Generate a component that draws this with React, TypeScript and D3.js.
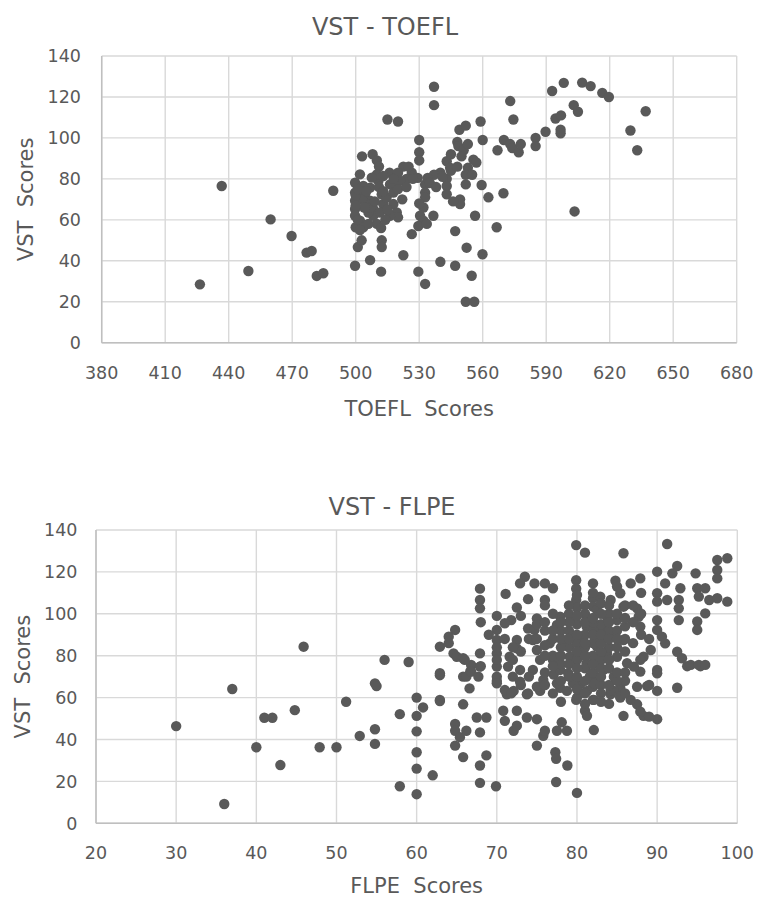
import React from 'react';
import * as d3 from 'd3';

const vstTicks = [0, 20, 40, 60, 80, 100, 120, 140];
const toeflTicks = [380, 410, 440, 470, 500, 530, 560, 590, 620, 650, 680];
const flpeTicks = [20, 30, 40, 50, 60, 70, 80, 90, 100];

// [TOEFL score, VST score]
const toeflPoints: [number, number][] = [
  [537,125],[537,116],[573,118],[574.5,109],[515,109],[520,108],[559,108],[530,99],[560,99],
  [549,104],[552,106],[548,98],[548.5,96],[551,94],[553,97],[567,94],[570,99],[573,97],[574,95],
  [577,93],[578,97],[585,100],[585,96],[530,93],[530,89],[503,91],[508,92],[510,89],[511,86],
  [522.5,86],[516,83],[526.5,83],[524,80],[521,79],[518,78],[540,83],[537,82],[543,88.6],[544.6,85.4],
  [543,80],[543,76.5],[543,72.5],[555.6,89.4],[553,85.4],[552,82],[552,77.3],[559.5,77],[562.7,71],
  [569.8,73],[549.3,70],[549.3,67.7],[556.4,62],[566.6,56.4],[547,54.5],[552.4,46.4],[559.9,43.2],
  [540,39.5],[547,37.6],[554.8,32.7],[552,20],[556,20],[532.8,77.3],[532.8,73.3],[532.8,71],[532,66],
  [530.4,62],[536.7,62],[532,59.6],[529.6,57],[533.6,58],[526.5,53],[522.5,42.7],[529.6,34.7],
  [532.8,28.7],[512.3,50],[512.3,46.7],[506.8,40.3],[499.7,37.6],[512,34.7],[501,46.7],[502.8,50],
  [500,56.4],[502,59.6],[503.6,56.4],
  [499.7,78.1],[499.7,73.3],[499.7,69.3],[499.7,65.3],[499.7,62],[502,82.2],[503.6,76.5],[504.4,72.5],
  [506.8,75.7],[506.8,69.3],[508.3,65.3],[508.3,62],[510,58],[510.7,79],[512.3,72.5],[513,67.7],
  [514.6,70.9],[516.2,77.3],[517.8,73.3],[517.8,67.7],[519.4,63.6],[520,61.2],[510,82.2],[513,81.4],
  [507.6,80.6],[506,63.6],[511.5,63.6],[516.2,62],[505.2,67.7],
  [520,83],[529.3,80.5],[534,80.5],
  [503,70],[505,74],[507,66],[509,69],[511,76],[513,74],[515,65],[518,80],[520,75],[522,70],[524,76],
  [527,80],[535,78],[538,76],[541,81],[545,84],[548,86],[525,86],[501,60],[502,55],[504,66],[506,58],
  [512,56],[514,60],[500,72],[500,67],[501,75],[530,68],[546,69],[555,82],[557,88],[550,91],[545,92],
  [436.7,76.5],[489.4,74.2],[459.8,60.2],[469.7,52.1],[476.8,44],[479.2,44.8],[481.6,32.6],[484.7,33.9],
  [449.3,35],[426.4,28.5],
  [592.8,122.9],[598.3,126.9],[607,127],[611,125.3],[616.5,122],[619.6,120],[603,116],[605,112.8],
  [594.4,109.5],[597,111],[596.8,104],[596.8,102.3],[589.7,103],[637,113],[629.8,103.6],[633,94],
  [603.4,64.1],
];

// [FLPE score, VST score]
const flpePoints: [number, number][] = [
  [30,46.4],[37,64.1],[36,9.2],[40,36.3],[41,50.4],[42,50.4],[43,27.8],[44.8,54],[47.9,36.3],[50,36.3],
  [51.2,58],[52.9,41.7],[54.8,44.9],[54.8,37.9],[54.8,66.8],[55,65.5],[45.9,84.3],[56,78],[59,77],
  [57.9,52.1],[60,60],[60.8,55.3],[60,51.3],[60,43.9],[60,33.9],[60,26.1],[60,13.9],[62,22.9],[57.9,17.7],
  [62.9,70.7],[62.9,58.4],[65.8,56.8],[64.8,47.4],[64.8,44.2],[64.8,37.1],[65.4,41.1],[66.2,44.2],
  [65.8,31.6],[67.5,50.5],[68.7,50.5],[67.9,43.4],[68.7,32.4],[67.9,27.6],[67.9,19.3],[69.9,17.7],
  [70.8,53.7],[71,48.9],[72.1,44.2],[72.5,46.6],[72.5,53.7],[73.75,50.5],[75,49.7],[75,37.1],[75.8,41.8],
  [76,44.2],[77.5,44.2],[78.1,48.2],[78.75,44.2],[77.3,33.9],[77.4,30.8],[78.8,27.6],[77.4,19.7],[80,14.5],
  [81,53.7],[81.25,51.3],[82.1,44.5],[85.8,51.3],[87.5,56.8],[88.3,51.3],[90,49.7],[92.5,64.7],
  [88.75,65.5],[90,63.2],[84.2,61.6],[85.4,64.7],[65.8,70],[66.7,72.6],[70,67.9],[71.25,61.6],[72.1,63.2],
  [73.75,61.6],[75.4,63.2],[77.1,71],[77.9,64.7],[78.75,63.2],[80.4,66.3],[81.25,63.2],[82.5,67.9],
  [84.6,63.2],[85.4,60],[93.75,75],[95.4,75],
  [79.9,132.8],[81,129.2],[73.5,117.7],[72.9,114.5],[74.7,114.5],[76,114.5],[77,112.2],[79.9,116],
  [79.9,112],[79.9,106.6],[82,114.5],[82,107.4],[82,103.4],[67.9,112],[67.9,106.6],[67.9,102.6],
  [71.1,109.5],[73.9,107],[72.5,103],[76,106.6],[70,99],[71.8,97],[71,95.5],[77.9,98.6],[77.5,94.7],
  [75,97.8],[73.9,93],[74.7,92.3],[79.7,97],[81.2,93.9],[82.4,92.3],[70,92.3],[70,87.5],[72.5,87.5],
  [72.5,83.5],[64.8,92.3],[64,89.1],[62.9,84.3],[64.6,81.1],[65,79.5],[65.8,78.8],[67.9,81.1],[70,81.1],
  [70,74.8],[70,70],[70,66.8],[66.8,75.6],[66.2,70],[66.8,72.4],[67.9,74.8],[67.7,70],[66.6,64.4],
  [62.9,71.6],[62.9,58.9],[71.6,79.5],[71.4,74.8],[72,70],[72.9,73.2],[72.9,67.6],[71,63.6],[71.8,62],
  [73.9,62],[74.5,87.5],[75,82.7],[75.4,78],[74.5,73.2],[75.8,68.4],[75,65.2],[76.6,85.9],[77,78],
  [77.9,73.2],[77.5,66.8],[78.7,87.5],[79.1,79.5],[78.9,71.6],[79.5,66.8],[80.4,89.1],[80.8,82.7],
  [81.2,76.4],[81.6,70],[82,65.2],[80.4,62],[79.9,58.9],[82,58.9],
  [91.25,133.3],[85.8,128.9],[97.5,125.7],[98.75,126.5],[97.5,120.9],[97.5,116.9],[90,120.1],[91.9,119.3],
  [92.5,122.8],[94.8,119.3],[87.9,116.9],[86.7,114.5],[84.8,115.8],[91,114.5],[92.9,112.2],[95,112.2],
  [96,112.2],[95.2,108.2],[90,109.8],[90,105.8],[91.25,106.6],[92.7,106.6],[92.7,102.6],[92.7,97],
  [96.5,106.6],[97.5,107.4],[98.75,105.8],[96,100.2],[95,96.3],[95,92.3],[87.5,102.6],[87.7,98.6],
  [87.9,93.9],[90,97],[90,92.3],[90.6,89.1],[91,85.9],[92.5,81.9],[93.1,78.8],[94.2,75.6],[95.2,75.6],
  [96,75.6],[89.2,82.7],[88.3,79.5],[87.9,78],[90,73.2],[90,71.6],[87.9,72.4],[87.5,65.2],[89,66],
  [87.9,53.3],[89,50.9],
  [82.9,108.2],[84.2,106.6],[85.4,109.8],[85.8,103.4],[82.5,101.8],[83.75,98.6],[85,97],[82.1,92.3],
  [83.3,92.3],[84.6,89.1],[85.8,87.5],[82.5,84.3],[83.75,81.1],[85,79.5],[86.25,76.4],[87.1,74.8],
  [82.1,76.4],[83.3,73.2],[84.6,70],[82.1,66.8],[84.2,63.6],[85.4,60.5],[86.7,58.9],[82.1,58.9],
  [76,85],[77,88],[78,92],[79,84],[80,78],[80,86],[81,90],[81,74],[82,80],[82,86],[83,88],[83,78],
  [84,84],[84,92],[78,76],[79,70],[80,70],[81,68],[82,72],[83,66],[77,80],[76,72],[79,92],[80,95],
  [83,95],[84,100],[85,92],[86,88],[86,82],[87,86],[87,96],[88,100],[88,90],[89,88],[79,100],[80,103],
  [80,109],[82,96],[84,96],[76,92],[75,95],[74,88],[73,82],[72,78],[74,70],[73,66],[76,66],[77,62],
  [78,58],[80,60],[81,57],[83,62],[84,57],[86,68],[86,94],[87,104],[88,110],[85,113],[83,105],[81,100],
  [77,100],[76,104],[73,99],[71,88],[72,84],[70,84],[70,78],[69,90],[68,96],[68,75],[66,78],[64,86],
  [78,80],[78,84],[78,88],[79,76],[79,88],[79,96],[80,74],[80,82],[80,90],[80,99],[81,80],[81,84],
  [81,86],[81,96],[82,76],[82,90],[82,98],[83,70],[83,74],[83,82],[83,86],[83,90],[84,66],[84,74],
  [84,78],[84,88],[85,68],[85,72],[85,84],[85,88],[85,100],[86,72],[86,98],[86,104],[84,104],[83,100],
  [81,104],[82,110],[79,104],[78,96],[77,92],[76,96],[75,88],[76,80],[77,75],[78,68],[80,64],[81,62],
  [83,58],[86,62],
];

const FONT = '"DejaVu Sans", sans-serif';
const TEXT = '#595959';
const GRID = '#d9d9d9';
const AXIS = '#bfbfbf';
const MARK = '#595959';

type Layout = {
  left: number; right: number; top: number; bottom: number;
  titleX: number; titleY: number; yTickX: number; xTickY: number;
  xTitleY: number; yTitleX: number;
};

function Scatter(props: {
  title: string; xTitle: string; yTitle: string;
  points: [number, number][]; xTicks: number[]; yTicks: number[]; L: Layout;
}) {
  const { title, xTitle, yTitle, points, xTicks, yTicks, L } = props;
  const x = d3.scaleLinear().domain([xTicks[0], xTicks[xTicks.length - 1]]).range([L.left, L.right]);
  const y = d3.scaleLinear().domain([yTicks[0], yTicks[yTicks.length - 1]]).range([L.bottom, L.top]);
  const cx = (L.left + L.right) / 2;
  const cy = (L.top + L.bottom) / 2;
  return (
    <g>
      <text x={L.titleX} y={L.titleY} textAnchor="middle" fontSize={24} fill={TEXT} fontFamily={FONT}>{title}</text>
      {xTicks.map((t) => (
        <line key={'gx' + t} x1={x(t)} x2={x(t)} y1={L.top} y2={L.bottom} stroke={GRID} strokeWidth={1.4} />
      ))}
      {yTicks.map((t) => (
        <line key={'gy' + t} x1={L.left} x2={L.right} y1={y(t)} y2={y(t)} stroke={GRID} strokeWidth={1.4} />
      ))}
      <line x1={L.left} x2={L.left} y1={L.top} y2={L.bottom} stroke={AXIS} strokeWidth={1.5} />
      <line x1={L.left} x2={L.right} y1={L.bottom} y2={L.bottom} stroke={AXIS} strokeWidth={1.5} />
      {yTicks.map((t) => (
        <text key={'ty' + t} x={L.yTickX} y={y(t)} dy="0.36em" textAnchor="end" fontSize={17.5} fill={TEXT} fontFamily={FONT}>{t}</text>
      ))}
      {xTicks.map((t) => (
        <text key={'tx' + t} x={x(t)} y={L.xTickY} textAnchor="middle" fontSize={17.5} fill={TEXT} fontFamily={FONT}>{t}</text>
      ))}
      <text x={cx} y={L.xTitleY} textAnchor="middle" fontSize={21} fill={TEXT} fontFamily={FONT} style={{ whiteSpace: 'pre' }}>{xTitle}</text>
      <text transform={`translate(${L.yTitleX},${cy}) rotate(-90)`} textAnchor="middle" fontSize={21} fill={TEXT} fontFamily={FONT} style={{ whiteSpace: 'pre' }}>{yTitle}</text>
      {points.map((p, i) => (
        <circle key={i} cx={x(p[0])} cy={y(p[1])} r={5.2} fill={MARK} />
      ))}
    </g>
  );
}

const topLayout: Layout = {
  left: 101.7, right: 736.7, top: 56, bottom: 342.7,
  titleX: 385, titleY: 35, yTickX: 81, xTickY: 378.5, xTitleY: 416, yTitleX: 33,
};
const bottomLayout: Layout = {
  left: 96, right: 737.3, top: 530, bottom: 823.3,
  titleX: 392, titleY: 515, yTickX: 77.5, xTickY: 858.5, xTitleY: 893, yTitleX: 30,
};

export default function App() {
  return (
    <svg width={757} height={899} style={{ position: 'absolute', left: 0, top: 0, background: '#fff' }}>
      <rect width={757} height={899} fill="#fff" />
      <Scatter title="VST - TOEFL" xTitle="TOEFL  Scores" yTitle="VST  Scores" points={toeflPoints}
        xTicks={toeflTicks} yTicks={vstTicks} L={topLayout} />
      <Scatter title="VST - FLPE" xTitle="FLPE  Scores" yTitle="VST  Scores" points={flpePoints}
        xTicks={flpeTicks} yTicks={vstTicks} L={bottomLayout} />
    </svg>
  );
}
